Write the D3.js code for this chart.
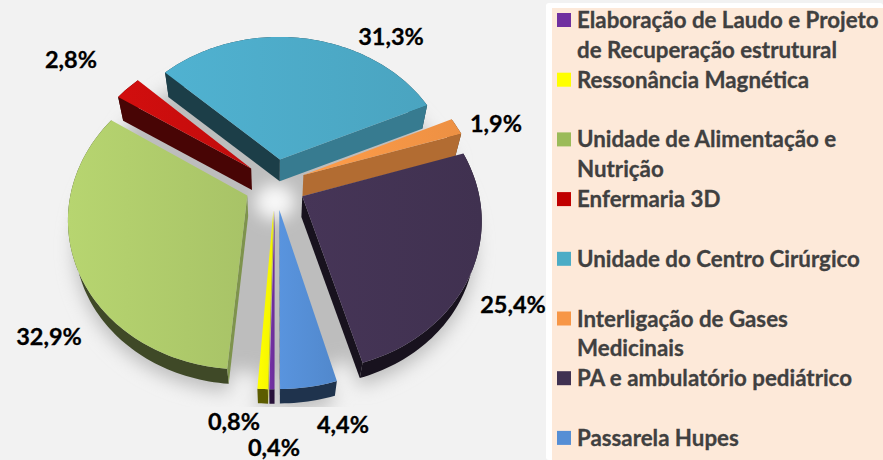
<!DOCTYPE html>
<html>
<head>
<meta charset="utf-8">
<script src="https://cdn.jsdelivr.net/npm/d3@7"></script>
<style>
  html, body { margin: 0; padding: 0; background: #f2f2f2; }
  svg { display: block; }
  text { font-family: Lato, sans-serif; font-weight: 700; stroke-width: 0.3px; }
</style>
</head>
<body>
<svg id="chart" width="883" height="460"></svg>
<script>
const categories = [
    'Elaboração de Laudo e Projeto|de Recuperação estrutural',
    'Ressonância Magnética',
    'Unidade de Alimentação e|Nutrição',
    'Enfermaria 3D',
    'Unidade do Centro Cirúrgico',
    'Interligação de Gases|Medicinais',
    'PA e ambulatório pediátrico',
    'Passarela Hupes'
]
const values = [0.4, 0.8, 32.9, 2.8, 31.3, 1.9, 25.4, 4.4]
const valueLabels = ['0,4%', '0,8%', '32,9%', '2,8%', '31,3%', '1,9%', '25,4%', '4,4%']
const topColors = ['#7030a0', '#ffff00', '#afcc6b', '#c90d0d', '#4dabc8', '#f79646', '#433353', '#558ed5']
const swatchColors = ['#7030a0', '#ffff00', '#9bbb59', '#c00000', '#4bacc6', '#f79646', '#403151', '#558ed5']

const svg = d3.select('#chart')
const width = 883, height = 460

// pie plane, seen in perspective
const cx = 275, cy = 184, rx = 175, ry = 146
const perspective = 0.14
const explode = 0.175
const depth = 21, depthScale = 0.968

function project(X, Y) {
    const s = 1 / (1 + perspective * Y)
    return [cx + X * rx * s, cy - Y * ry * s]
}
function lower([x, y]) {
    return [cx + (x - cx) * depthScale, cy + (y - cy) * depthScale + depth]
}

const pie = d3.pie().sort(null).value(d => d).startAngle(Math.PI).endAngle(3 * Math.PI)
const arcs = pie(values).map((d, i) => {
    const mid = (d.startAngle + d.endAngle) / 2
    const ox = Math.sin(mid) * explode, oy = Math.cos(mid) * explode
    const steps = Math.max(2, Math.ceil((d.endAngle - d.startAngle) * 40))
    const rim = d3.range(steps + 1).map(k => {
        const a = d.startAngle + (d.endAngle - d.startAngle) * k / steps
        return project(ox + Math.sin(a), oy + Math.cos(a))
    })
    return { i, mid, tip: project(ox, oy), rim, depthY: Math.cos(mid) }
})
const line = d3.line()
const closed = pts => line(pts) + 'Z'
const shade = (color, t) => d3.interpolateRgb('#000', color)(t)

// page panels
svg.append('rect').attr('x', 546).attr('y', 3).attr('width', width - 546).attr('height', height - 3)
    .attr('rx', 3).attr('fill', '#ffffff')
svg.append('rect').attr('x', 552).attr('y', 8).attr('width', width - 552).attr('height', height - 8)
    .attr('fill', '#fde9d9')

const defs = svg.append('defs')
defs.append('filter').attr('id', 'soft').attr('x', '-20%').attr('y', '-20%').attr('width', '140%').attr('height', '140%')
    .append('feGaussianBlur').attr('stdDeviation', 9)
defs.append('filter').attr('id', 'hub').attr('x', '-60%').attr('y', '-60%').attr('width', '220%').attr('height', '220%')
    .append('feGaussianBlur').attr('stdDeviation', 8)
defs.append('clipPath').attr('id', 'shadow-clip').append('rect')
    .attr('x', 0).attr('y', 0).attr('width', 546).attr('height', 407)

arcs.forEach(a => {
    const c = d3.color(topColors[a.i])
    const g = defs.append('linearGradient').attr('id', `top-${a.i}`)
    g.append('stop').attr('offset', '0%').attr('stop-color', c.brighter(0.12))
    g.append('stop').attr('offset', '100%').attr('stop-color', c.darker(0.12))
})

// shadow: the whole pie dropped below the slices
const shadow = svg.append('g').attr('clip-path', 'url(#shadow-clip)')
    .append('g').attr('filter', 'url(#soft)').attr('fill', '#bdbdbd')
const disc = d3.range(0, 2 * Math.PI, 0.05).map(a => project(Math.sin(a) * 1.02, Math.cos(a) * 1.02 - 0.08))
shadow.append('path').attr('d', closed(disc))
shadow.selectAll('.drop')
    .data(arcs)
    .join('path')
    .attr('d', a => closed([a.tip, ...a.rim].map(lower).map(([x, y]) => [x, y + 8])))

svg.append('ellipse').attr('cx', cx).attr('cy', cy + 18).attr('rx', 20).attr('ry', 18)
    .attr('fill', '#f8f8f8').attr('filter', 'url(#hub)')

// slices back to front
const slices = svg.append('g').selectAll('g')
    .data(arcs.slice().sort((a, b) => b.depthY - a.depthY))
    .join('g')

slices.each(function (a) {
    const g = d3.select(this)
    const color = topColors[a.i]

    // the outer wall in one piece, the top hides whatever faces away
    g.append('path')
        .attr('d', closed([...a.rim, ...a.rim.map(lower).reverse()]))
        .attr('fill', shade(color, 0.36))

    // radial walls that face the viewer
    const wall = (p, q) => {
        const quad = [p, q, lower(q), lower(p)]
        if (d3.polygonArea(quad) <= 0) return
        // walls turned to the right catch more light
        const normalX = (q[1] - p[1]) / Math.hypot(q[0] - p[0], q[1] - p[1])
        g.append('path').attr('d', closed(quad)).attr('fill', shade(color, normalX > 0.25 ? 0.72 : 0.36))
    }
    wall(a.rim[a.rim.length - 1], a.tip)
    wall(a.tip, a.rim[0])

    g.append('path').attr('d', closed([a.tip, ...a.rim])).attr('fill', `url(#top-${a.i})`)
})

// value labels sit beside their slices
const labelSpots = [[274, 456], [234, 430], [49, 345], [71, 68], [391, 45], [496, 132], [513, 313], [343, 433]]
svg.append('g').selectAll('text')
    .data(valueLabels)
    .join('text')
    .attr('x', (d, i) => labelSpots[i][0])
    .attr('y', (d, i) => labelSpots[i][1])
    .attr('text-anchor', 'middle')
    .attr('fill', '#000')
    .attr('stroke', '#000')
    .style('font-size', '23.5px')
    .text(d => d)

// legend, every entry takes two text lines
const lineStep = 29.85
const legendY = d3.scaleLinear().domain([0, 1]).range([20, 20 + 2 * lineStep])
const legend = svg.append('g').selectAll('g')
    .data(categories)
    .join('g')
    .attr('transform', (d, i) => `translate(557,${legendY(i)})`)
legend.append('rect')
    .attr('y', -7).attr('width', 14).attr('height', 14)
    .attr('fill', (d, i) => swatchColors[i])
legend.each(function (d) {
    d.split('|').forEach((t, k) => {
        d3.select(this).append('text')
            .attr('x', 20).attr('y', k * lineStep + 8)
            .attr('fill', '#404040')
            .attr('stroke', '#404040')
            .style('font-size', '22.3px')
            .text(t)
    })
})
</script>
</body>
</html>
